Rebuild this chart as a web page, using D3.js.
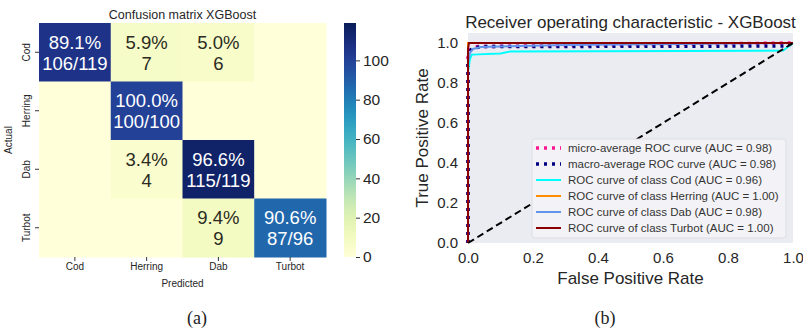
<!DOCTYPE html>
<html>
<head>
<meta charset="utf-8">
<script src="https://cdn.jsdelivr.net/npm/d3@7"></script>
<style>
  html, body { margin: 0; padding: 0; background: #ffffff; }
  svg { display: block; }
  text { font-family: "Liberation Sans", Arial, sans-serif; fill: #262626; }
</style>
</head>
<body>
<svg id="fig" width="803" height="332"></svg>
<script>
// ---- Confusion matrix data ----
const classes = ["Cod", "Herring", "Dab", "Turbot"];
const countsCod = [106, 7, 6, 0];
const countsHerring = [0, 100, 0, 0];
const countsDab = [0, 4, 115, 0];
const countsTurbot = [0, 0, 9, 87];
const colorbarMax = 119;
const colorbarTicks = [0, 20, 40, 60, 80, 100];

// ---- ROC curve data (false positive rate / true positive rate) ----
const microFpr = [0, 0, 0.004, 0.01, 0.03, 0.2, 1];
const microTpr = [0, 0.93, 0.96, 0.972, 0.982, 0.985, 1];
const macroFpr = [0, 0, 0.005, 0.012, 0.04, 0.98, 1];
const macroTpr = [0, 0.9, 0.955, 0.972, 0.982, 0.985, 1];
const codFpr = [0, 0, 0.006, 0.012, 0.1, 0.13, 0.97, 1];
const codTpr = [0, 0.86, 0.92, 0.942, 0.948, 0.958, 0.962, 1];
const herringFpr = [0, 0, 1];
const herringTpr = [0, 1, 1];
const dabFpr = [0, 0, 0.006, 0.015, 0.04, 0.3, 1];
const dabTpr = [0, 0.9, 0.95, 0.97, 0.98, 0.99, 1];
const turbotFpr = [0, 0, 0.003, 1];
const turbotTpr = [0, 0.97, 1, 1];
const rocTicks = [0, 0.2, 0.4, 0.6, 0.8, 1.0];
const rocLabels = [
  "micro-average ROC curve (AUC = 0.98)",
  "macro-average ROC curve (AUC = 0.98)",
  "ROC curve of class Cod (AUC = 0.96)",
  "ROC curve of class Herring (AUC = 1.00)",
  "ROC curve of class Dab (AUC = 0.98)",
  "ROC curve of class Turbot (AUC = 1.00)"
];

const svg = d3.select("#fig");

// ================= Panel (a): confusion matrix heatmap =================
(function drawHeatmap() {
  const rows = [countsCod, countsHerring, countsDab, countsTurbot];
  const left = 39, right = 326, top = 23, bottom = 257;
  const x = d3.scaleBand().domain(classes).range([left, right]);
  const y = d3.scaleBand().domain(classes).range([top, bottom]);
  const color = d3.scaleSequential(d3.interpolateYlGnBu).domain([0, colorbarMax]);

  const g = svg.append("g");

  g.append("text")
    .attr("x", (left + right) / 2).attr("y", 19)
    .attr("text-anchor", "middle")
    .style("font-size", "12.5px")
    .text("Confusion matrix XGBoost");

  const cells = [];
  rows.forEach((row, i) => {
    const total = d3.sum(row);
    row.forEach((v, j) => cells.push({ actual: classes[i], pred: classes[j], v, total, diag: i === j }));
  });

  g.selectAll("rect.cell").data(cells).join("rect")
    .attr("class", "cell")
    .attr("x", d => x(d.pred))
    .attr("y", d => y(d.actual))
    .attr("width", x.bandwidth() + 0.5)
    .attr("height", y.bandwidth() + 0.5)
    .attr("fill", d => color(d.v));

  const lab = g.selectAll("text.ann").data(cells.filter(d => d.v > 0)).join("text")
    .attr("class", "ann")
    .attr("text-anchor", "middle")
    .style("font-size", "18.5px")
    .style("fill", d => d.v > colorbarMax / 2 ? "#ffffff" : "#2b2b22");
  lab.append("tspan")
    .attr("x", d => x(d.pred) + x.bandwidth() / 2)
    .attr("y", d => y(d.actual) + y.bandwidth() / 2 - 3.5)
    .text(d => (100 * d.v / d.total).toFixed(1) + "%");
  lab.append("tspan")
    .attr("x", d => x(d.pred) + x.bandwidth() / 2)
    .attr("y", d => y(d.actual) + y.bandwidth() / 2 + 17.5)
    .text(d => d.diag ? `${d.v}/${d.total}` : `${d.v}`);

  // x axis (Predicted)
  const xAxis = g.append("g").attr("transform", `translate(0,${bottom})`)
    .call(d3.axisBottom(x).tickSize(4).tickPadding(2));
  xAxis.select(".domain").remove();
  xAxis.selectAll("line").attr("stroke", "#333");
  xAxis.selectAll("text").style("font-size", "10px").style("font-family", null).attr("fill", "#262626");

  g.append("text")
    .attr("x", (left + right) / 2).attr("y", 287)
    .attr("text-anchor", "middle")
    .style("font-size", "10px")
    .text("Predicted");

  // y axis (Actual), labels rotated at each tick
  const yAxis = g.append("g").attr("transform", `translate(${left},0)`)
    .call(d3.axisLeft(y).tickSize(4).tickPadding(3));
  yAxis.select(".domain").remove();
  yAxis.selectAll("line").attr("stroke", "#333");
  yAxis.selectAll(".tick text")
    .style("font-size", "10px").style("font-family", null).attr("fill", "#262626")
    .attr("text-anchor", "middle")
    .attr("dy", "0")
    .attr("x", 0).attr("y", 0)
    .attr("transform", "translate(-9,0) rotate(-90)");

  g.append("text")
    .attr("transform", `translate(12,${(top + bottom) / 2}) rotate(-90)`)
    .attr("text-anchor", "middle")
    .style("font-size", "10px")
    .text("Actual");

  // colorbar
  const cbX = 344, cbW = 12;
  const cbScale = d3.scaleLinear().domain([0, colorbarMax]).range([bottom, top]);
  const defs = svg.append("defs");
  const grad = defs.append("linearGradient").attr("id", "cbGrad")
    .attr("x1", 0).attr("y1", 1).attr("x2", 0).attr("y2", 0);
  d3.range(0, 1.0001, 0.05).forEach(t => {
    grad.append("stop").attr("offset", t).attr("stop-color", color(t * colorbarMax));
  });
  g.append("rect")
    .attr("x", cbX).attr("y", top).attr("width", cbW).attr("height", bottom - top)
    .attr("fill", "url(#cbGrad)");
  const cbAxis = g.append("g").attr("transform", `translate(${cbX + cbW},0)`)
    .call(d3.axisRight(cbScale).tickValues(colorbarTicks).tickSize(4).tickPadding(3));
  cbAxis.select(".domain").remove();
  cbAxis.selectAll("line").attr("stroke", "#333");
  cbAxis.selectAll("text").style("font-size", "15.5px").style("font-family", null).attr("fill", "#262626");
})();

// ================= Panel (b): ROC curves =================
(function drawRoc() {
  const x = d3.scaleLinear().domain([0, 1]).range([468, 793]);
  const y = d3.scaleLinear().domain([0, 1.05]).range([243, 33]);
  const g = svg.append("g");

  g.append("rect")
    .attr("x", x(0)).attr("y", y(1.05))
    .attr("width", x(1) - x(0)).attr("height", y(0) - y(1.05))
    .attr("fill", "#ebebf2");

  const line = d3.line().x(d => x(d[0])).y(d => y(d[1]));
  const zip = (a, b) => a.map((v, i) => [v, b[i]]);

  const curves = [
    { fpr: microFpr, tpr: microTpr, color: "#ff1493", width: 3.5, dash: "3,5" },
    { fpr: macroFpr, tpr: macroTpr, color: "#000080", width: 3.5, dash: "3,5" },
    { fpr: codFpr, tpr: codTpr, color: "#00ffff", width: 2, dash: null },
    { fpr: herringFpr, tpr: herringTpr, color: "#ff8c00", width: 2, dash: null },
    { fpr: dabFpr, tpr: dabTpr, color: "#6495ed", width: 2, dash: null },
    { fpr: turbotFpr, tpr: turbotTpr, color: "#8b0000", width: 2, dash: null }
  ];

  const plot = g.append("g");
  curves.forEach(c => {
    plot.append("path")
      .datum(zip(c.fpr, c.tpr))
      .attr("d", line)
      .attr("fill", "none")
      .attr("stroke", c.color)
      .attr("stroke-width", c.width)
      .attr("stroke-dasharray", c.dash);
  });
  // chance line
  plot.append("path")
    .datum([[0, 0], [1, 1]])
    .attr("d", line)
    .attr("fill", "none")
    .attr("stroke", "#000")
    .attr("stroke-width", 2)
    .attr("stroke-dasharray", "7,4");

  // axes
  const xAxis = g.append("g").attr("transform", `translate(0,${y(0)})`)
    .call(d3.axisBottom(x).tickValues(rocTicks).tickFormat(d3.format(".1f")).tickSize(0).tickPadding(9));
  xAxis.select(".domain").remove();
  xAxis.selectAll("text").style("font-size", "15px").style("font-family", null).attr("fill", "#333");

  const yAxis = g.append("g").attr("transform", `translate(${x(0)},0)`)
    .call(d3.axisLeft(y).tickValues(rocTicks).tickFormat(d3.format(".1f")).tickSize(0).tickPadding(10));
  yAxis.select(".domain").remove();
  yAxis.selectAll("text").style("font-size", "15px").style("font-family", null).attr("fill", "#333");

  g.append("text")
    .attr("x", (x(0) + x(1)) / 2).attr("y", 28)
    .attr("text-anchor", "middle")
    .style("font-size", "17px")
    .text("Receiver operating characteristic - XGBoost");

  g.append("text")
    .attr("x", (x(0) + x(1)) / 2).attr("y", 284)
    .attr("text-anchor", "middle")
    .style("font-size", "17px")
    .text("False Positive Rate");

  g.append("text")
    .attr("transform", `translate(428,${(y(0) + y(1.05)) / 2}) rotate(-90)`)
    .attr("text-anchor", "middle")
    .style("font-size", "17px")
    .text("True Positive Rate");

  // legend
  const lg = g.append("g");
  lg.append("rect")
    .attr("x", 532).attr("y", 139).attr("width", 254).attr("height", 99)
    .attr("rx", 3)
    .attr("fill", "#f3f3f7").attr("stroke", "#dcdce4").attr("stroke-width", 1);
  curves.forEach((c, i) => {
    const yy = 148 + i * 16;
    lg.append("line")
      .attr("x1", 536).attr("x2", 561).attr("y1", yy).attr("y2", yy)
      .attr("stroke", c.color).attr("stroke-width", c.width)
      .attr("stroke-dasharray", c.dash);
    lg.append("text")
      .attr("x", 568).attr("y", yy + 4)
      .style("font-size", "11.5px")
      .style("fill", "#333")
      .text(rocLabels[i]);
  });
})();

// ================= Panel captions =================
svg.append("text").attr("x", 197).attr("y", 324).attr("text-anchor", "middle")
  .style("font-family", "'Liberation Serif', 'DejaVu Serif', serif").style("font-size", "18px").style("fill", "#222")
  .text("(a)");
svg.append("text").attr("x", 605).attr("y", 324).attr("text-anchor", "middle")
  .style("font-family", "'Liberation Serif', 'DejaVu Serif', serif").style("font-size", "18px").style("fill", "#222")
  .text("(b)");
</script>
</body>
</html>
